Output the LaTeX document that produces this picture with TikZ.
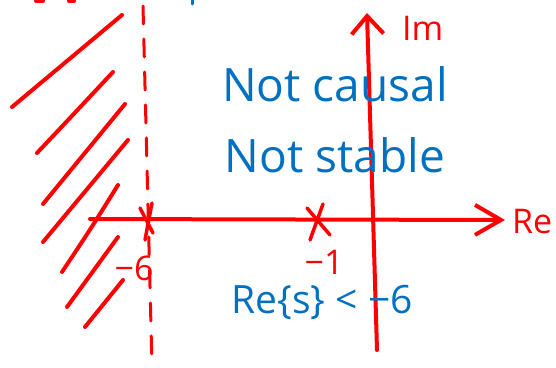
\documentclass[tikz,border=0pt]{standalone}
\usepackage{fontspec}
\setmainfont{Open Sans}
\usetikzlibrary{arrows.meta}
\definecolor{penred}{RGB}{255,0,0}
\definecolor{penblue}{RGB}{0,112,192}
\tikzset{
  pen/.style={penred,line width=4pt,line cap=round,line join=round},
  axis/.style={pen},
  hatchline/.style={pen},
  guide/.style={pen,line width=3pt,dash pattern=on 18pt off 15pt},
  bluetext/.style={text=penblue,font=\fontsize{46}{46}\selectfont,inner sep=0pt},
  redtext/.style={text=penred,font=\fontsize{34}{34}\selectfont,inner sep=0pt},
  polemark/.style={pen,line width=3.5pt}
}
\begin{document}
\begin{tikzpicture}[x=1pt,y=-1pt]
\useasboundingbox (0,0) rectangle (556,367);
% top cut-off fragments
\draw[pen] (36,1) -- (43,1);
\draw[pen] (69,1) -- (74,1);
\draw[pen,draw=penblue,line width=3pt] (192,0) -- (192,4);
% dashed guide line at Re{s} = -6
\coordinate (gtop) at (143,6);
\coordinate (gbot) at (152,367);
\draw[guide] (gtop) -- (gbot);
% hatching
\draw[hatchline] (12,107) -- (122,15);
\draw[hatchline] (37,153) .. controls (70,118) .. (113,72);
\draw[hatchline] (43,204) -- (125,104);
\draw[hatchline] (43,242) -- (128,140);
\draw[hatchline] (62,272) .. controls (90,230) .. (118,185);
\draw[hatchline] (67,307) -- (118,237);
\draw[hatchline] (85,327) -- (123,280);
% axes
\coordinate (reStart) at (90,219);
\coordinate (reEnd) at (505,220);
\coordinate (imStart) at (377,350);
\coordinate (imEnd) at (367,13);
\draw[axis,-{Straight Barb[length=26pt,width=30pt,line width=4pt]}] (reStart) -- (reEnd);
\draw[axis,-{Straight Barb[length=18pt,width=32pt,line width=4pt]}] (imStart) -- (imEnd);
\node[redtext,anchor=west] (relabel) at (512,222) {Re};
\node[redtext,anchor=west] (imlabel) at (402,28) {Im};
% poles
\coordinate (p6) at (147,222);
\coordinate (p1) at (318,222);
\draw[polemark] (140,208) -- (153,233);
\draw[polemark] (152,203) -- (145,240);
\draw[polemark] (307,208) -- (330,235);
\draw[polemark] (323,204) -- (310,240);
\node[redtext] (lab6) at (134,268) {−6};
\node[redtext] (lab1) at (324,262) {−1};
% annotations
\node[bluetext] (causal) at (335,84) {Not causal};
\node[bluetext] (stable) at (335,155) {Not stable};
\node[bluetext,font=\fontsize{39}{39}\selectfont] (roc) at (322,302) {Re\{s\} < −6};
\end{tikzpicture}
\end{document}
